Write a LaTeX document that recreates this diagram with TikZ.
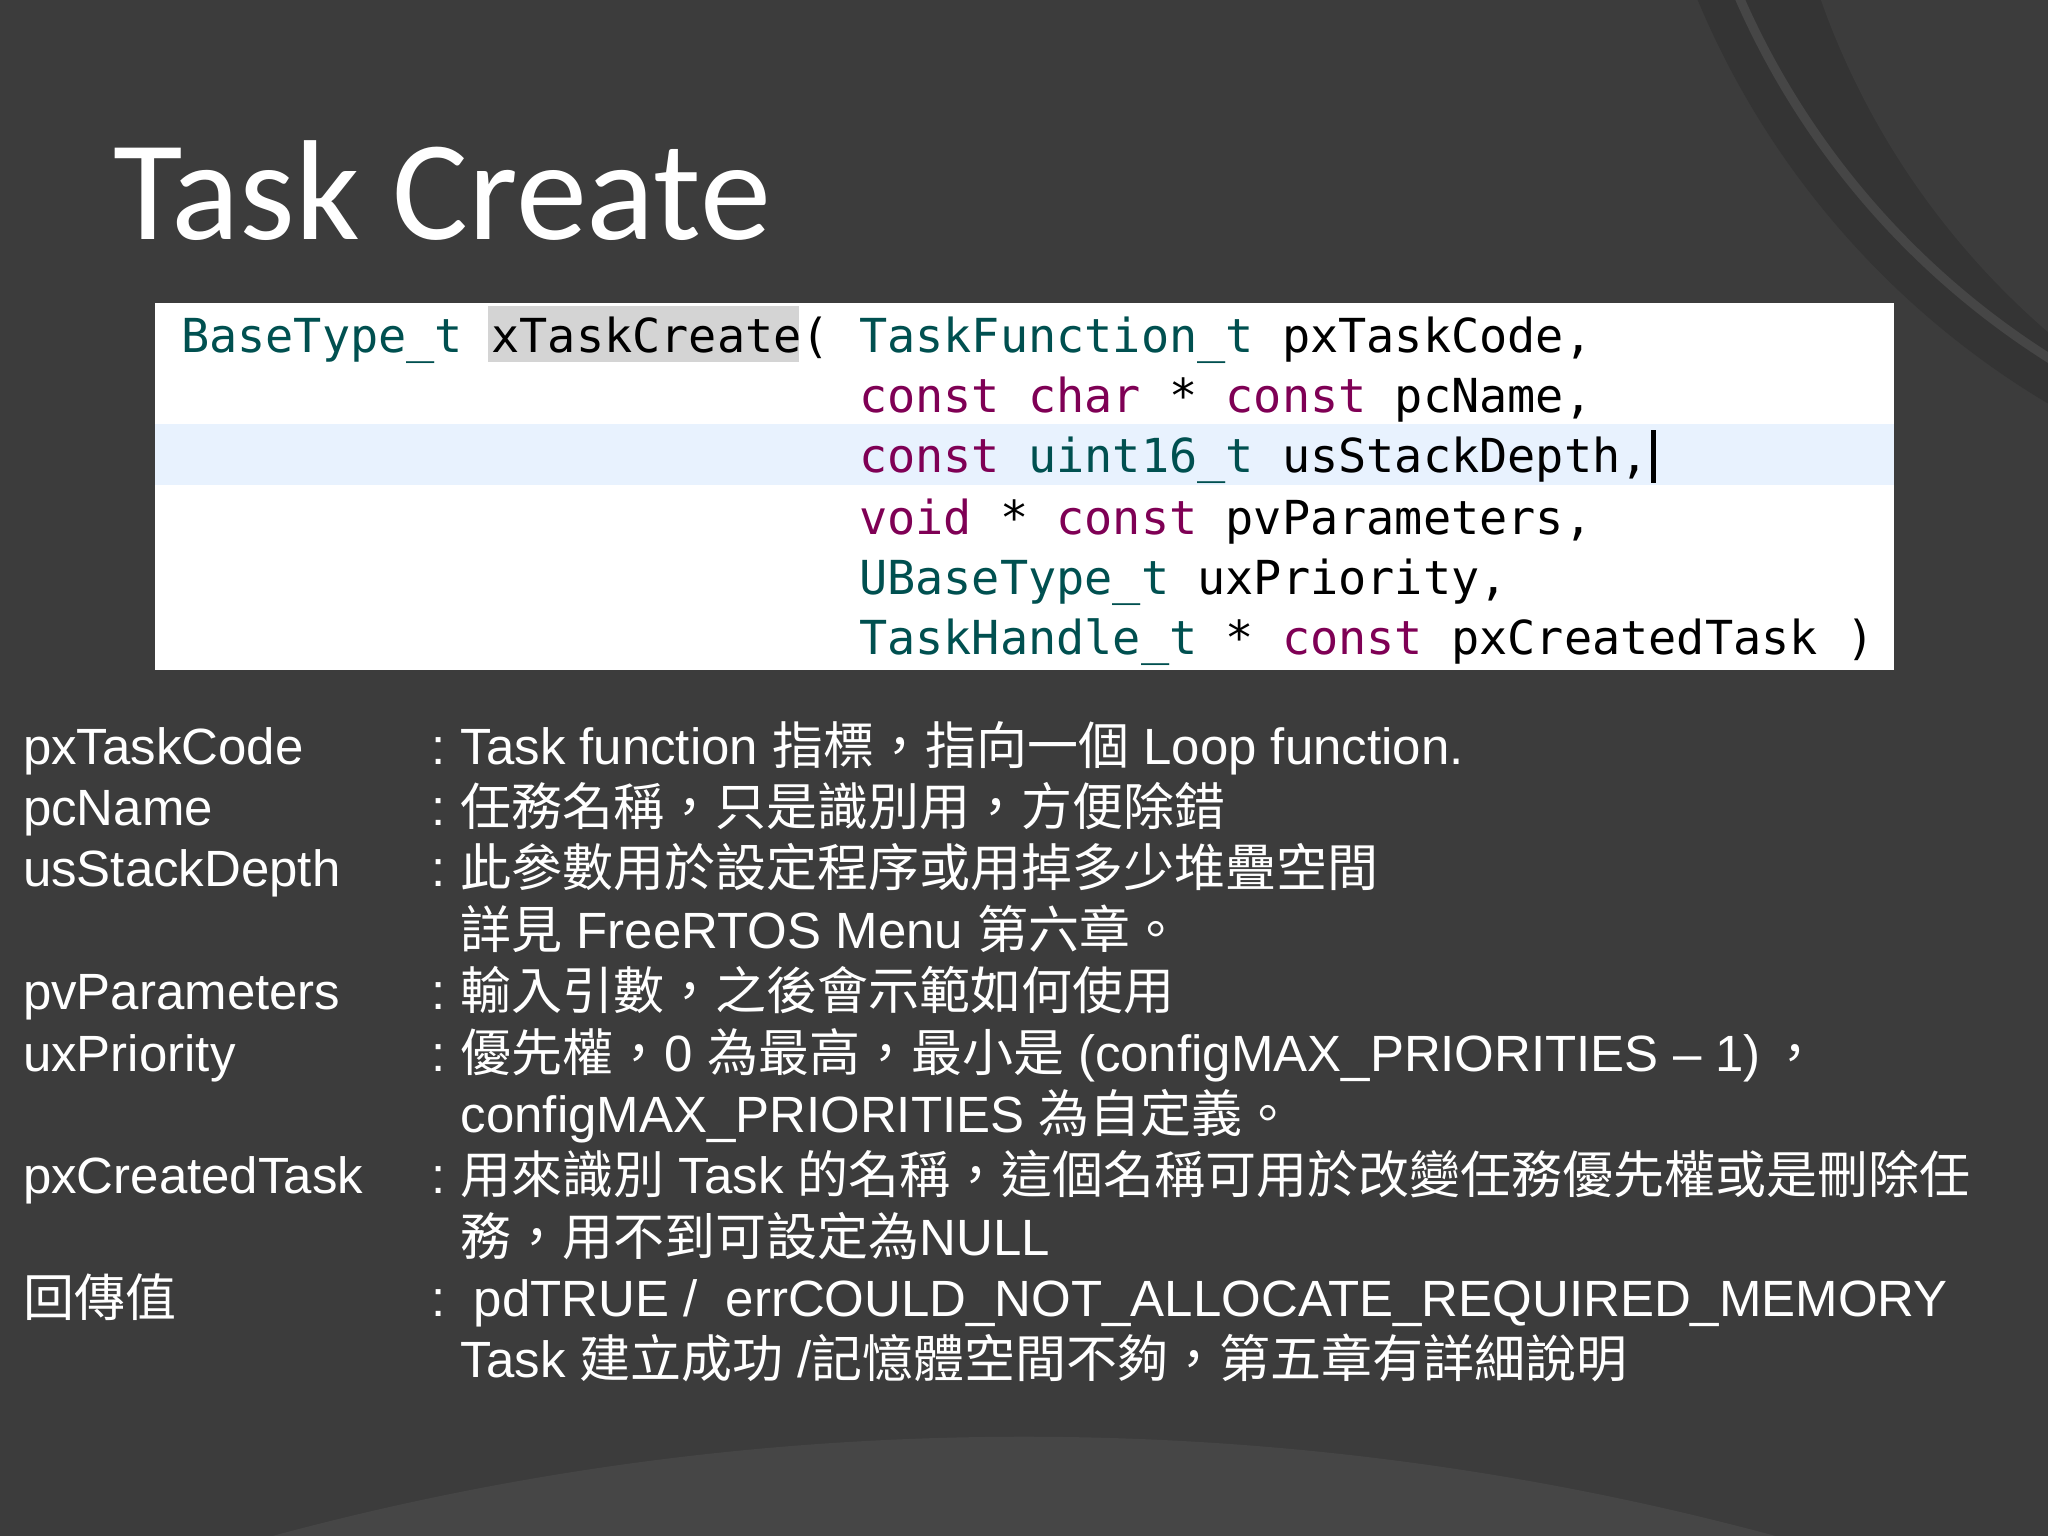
\documentclass[tikz,border=0pt]{standalone}
\usepackage{fontspec}
\setmainfont{Liberation Sans}
\newfontfamily\cjk{Noto Sans CJK TC}
\newfontfamily\codefont{DejaVu Sans Mono}
\newfontfamily\titlefont{Carlito}
\definecolor{bg}{RGB}{60,60,60}
\definecolor{bgdark}{RGB}{52,52,52}
\definecolor{bglight}{RGB}{70,70,70}
\definecolor{kw}{RGB}{127,0,85}
\definecolor{ty}{RGB}{0,80,80}
\definecolor{hl}{RGB}{232,242,254}
\definecolor{sel}{RGB}{212,212,212}
\tikzset{
 body/.style={anchor=base west,inner sep=0pt,text=white,font=\fontsize{11.1pt}{13pt}\selectfont},
 code/.style={anchor=base west,inner sep=0pt,font=\codefont\fontsize{10.2pt}{12pt}\selectfont},
}
\newcommand{\K}[1]{\textcolor{kw}{#1}}
\newcommand{\T}[1]{\textcolor{ty}{#1}}
\begin{document}
\begin{tikzpicture}[x=0.01cm,y=-0.01cm]
\useasboundingbox (0,0) rectangle (1568,1176);
\fill[bg] (0,0) rectangle (1568,1176);
\begin{scope}
\clip (0,0) rectangle (1568,1176);
\fill[bglight] (784,3300) circle[radius=2200];
\fill[bgdark] (1900,-250) circle[radius=650];
\fill[bg] (1960,-200) circle[radius=600];
\draw[bglight,line width=2] (1900,-250) circle[radius=620];
\end{scope}
\node[anchor=base west,inner sep=0pt,text=white,font=\titlefont\fontsize{31pt}{36pt}\selectfont] (title) at (86,183) {Task Create};
\fill[white] (119,232) rectangle (1450,513);
\fill[hl] (119,325) rectangle (1450,371);
\fill[sel] (374,234) rectangle (612,277);
\fill[black] (1264,329) rectangle (1268,370);
\node[code] (c1) at (138,270) {\T{BaseType\_t} xTaskCreate(};
\node[code] (c1b) at (657,270) {\T{TaskFunction\_t} pxTaskCode,};
\node[code] (c2) at (657,316) {\K{const} \K{char} * \K{const} pcName,};
\node[code] (c3) at (657,362) {\K{const} \T{uint16\_t} usStackDepth,};
\node[code] (c4) at (657,409) {\K{void} * \K{const} pvParameters,};
\node[code] (c5) at (657,455) {\T{UBaseType\_t} uxPriority,};
\node[code] (c6) at (657,501) {\T{TaskHandle\_t} * \K{const} pxCreatedTask )};
\foreach \n/\y/\t in {a/585/pxTaskCode,b/632/pcName,c/679/usStackDepth,d/773/pvParameters,e/820/uxPriority,f/914/pxCreatedTask}
  \node[body] (l\n) at (17,\y) {\t};
\node[body] (lg) at (17,1008) {\cjk 回傳值};
\foreach \y in {585,632,679,773,820,914,1008}
  \node[body] at (330,\y) {:};
\node[body] (t1) at (352,585) {Task function {\cjk 指標，指向一個} Loop function.};
\node[body] (t2) at (352,632) {\cjk 任務名稱，只是識別用，方便除錯};
\node[body] (t3) at (352,679) {\cjk 此參數用於設定程序或用掉多少堆疊空間};
\node[body] (t3b) at (352,726) {{\cjk 詳見} FreeRTOS Menu {\cjk 第六章。}};
\node[body] (t4) at (352,773) {\cjk 輸入引數，之後會示範如何使用};
\node[body] (t5) at (352,820) {{\cjk 優先權，}0 {\cjk 為最高，最小是} (configMAX\_PRIORITIES – 1)\,{\cjk ，}};
\node[body] (t5b) at (352,867) {configMAX\_PRIORITIES {\cjk 為自定義。}};
\node[body] (t6) at (352,914) {{\cjk 用來識別} Task {\cjk 的名稱，這個名稱可用於改變任務優先權或是刪除任}};
\node[body] (t6b) at (352,961) {{\cjk 務，用不到可設定為}NULL};
\node[body] (t7) at (362,1008) {pdTRUE /\ \ errCOULD\_NOT\_ALLOCATE\_REQUIRED\_MEMORY};
\node[body] (t7b) at (352,1055) {Task {\cjk 建立成功} /{\cjk 記憶體空間不夠，第五章有詳細說明}};
\end{tikzpicture}
\end{document}
